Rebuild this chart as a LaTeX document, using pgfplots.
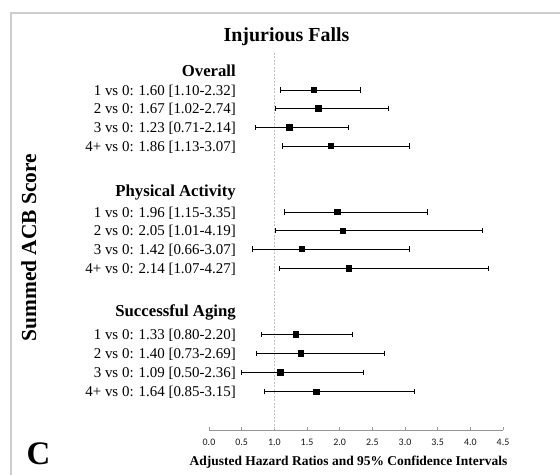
\documentclass[border=0pt]{standalone}
\usepackage{pgfplots}
\pgfplotsset{compat=1.18}
\usepackage{pgfplotstable}
\usepackage{fontspec}
\setmainfont{Liberation Serif}
\newfontfamily\carlito{Carlito}
\definecolor{frame}{RGB}{205,205,205}
\definecolor{refline}{RGB}{195,195,195}
\definecolor{axisgray}{RGB}{150,150,150}

% y = vertical position of each row (picture units, downward negative)
\pgfplotstableread{
y hr lo hi
-90.0 1.60 1.10 2.32
-108.3 1.67 1.02 2.74
-127.3 1.23 0.71 2.14
-146.0 1.86 1.13 3.07
}\overall
\pgfplotstableread{
y hr lo hi
-212.0 1.96 1.15 3.35
-230.7 2.05 1.01 4.19
-249.0 1.42 0.66 3.07
-268.3 2.14 1.07 4.27
}\physact
\pgfplotstableread{
y hr lo hi
-334.3 1.33 0.80 2.20
-353.3 1.40 0.73 2.69
-372.3 1.09 0.50 2.36
-391.7 1.64 0.85 3.15
}\sucaging

\pgfplotsset{forest/.style={
    only marks, mark=square*, mark size=2.7bp, black,
    error bars/.cd, x dir=both, x explicit,
    error mark=|,
    error bar style={line width=0.8bp, black},
    error mark options={line width=0.8bp, mark size=2.6bp, black}}}

\begin{document}
\begin{tikzpicture}[x=1bp,y=1bp]
\draw[frame, line width=1.6bp] (10.8,-20) -- (10.8,461.7) -- (600,461.7);
\begin{axis}[
  at={(209bp,45bp)}, anchor=south west, scale only axis,
  width=294bp, height=377bp,
  xmin=0, xmax=4.5, ymin=-430, ymax=-53, enlargelimits=false,
  axis x line=bottom, axis y line=none,
  x axis line style={-, color=axisgray, line width=0.8bp},
  xtick={0,0.5,1,1.5,2,2.5,3,3.5,4,4.5}, ytick=\empty,
  tick align=inside, major tick length=2.5bp,
  xtick style={color=axisgray, line width=0.8bp},
  xticklabel={\carlito\fontsize{10}{12}\selectfont\pgfmathprintnumber[fixed,fixed zerofill,precision=1,assume math mode=true]{\tick}},
  xticklabel style={anchor=base, yshift=-15.3bp, inner sep=0pt, text=black!90},
  clip=false,
]
\addplot[refline, line width=0.9bp, dash pattern=on 2bp off 1.5bp, sharp plot, no marks] coordinates {(1,-53) (1,-430)};
\addplot[forest] table[x=hr, y=y, x error plus expr=\thisrow{hi}-\thisrow{hr}, x error minus expr=\thisrow{hr}-\thisrow{lo}] {\overall};
\addplot[forest] table[x=hr, y=y, x error plus expr=\thisrow{hi}-\thisrow{hr}, x error minus expr=\thisrow{hr}-\thisrow{lo}] {\physact};
\addplot[forest] table[x=hr, y=y, x error plus expr=\thisrow{hi}-\thisrow{hr}, x error minus expr=\thisrow{hr}-\thisrow{lo}] {\sucaging};

\tikzset{hdr/.style={anchor=base east, inner sep=0, font=\fontsize{16.8}{18}\selectfont\bfseries},
         row/.style={anchor=base east, inner sep=0, font=\fontsize{15}{17}\selectfont}}
\node[hdr] at (axis cs:0.413,-76.7) {Overall};
\node[row] at (axis cs:0.413,-95.1) {1 vs 0: 1.60 [1.10-2.32]};
\node[row] at (axis cs:0.413,-113.4) {2 vs 0: 1.67 [1.02-2.74]};
\node[row] at (axis cs:0.413,-132.4) {3 vs 0: 1.23 [0.71-2.14]};
\node[row] at (axis cs:0.413,-151.1) {4+ vs 0: 1.86 [1.13-3.07]};
\node[hdr] at (axis cs:0.413,-196.7) {Physical Activity};
\node[row] at (axis cs:0.413,-217.1) {1 vs 0: 1.96 [1.15-3.35]};
\node[row] at (axis cs:0.413,-235.8) {2 vs 0: 2.05 [1.01-4.19]};
\node[row] at (axis cs:0.413,-254.1) {3 vs 0: 1.42 [0.66-3.07]};
\node[row] at (axis cs:0.413,-273.4) {4+ vs 0: 2.14 [1.07-4.27]};
\node[hdr] at (axis cs:0.413,-316.7) {Successful Aging};
\node[row] at (axis cs:0.413,-339.4) {1 vs 0: 1.33 [0.80-2.20]};
\node[row] at (axis cs:0.413,-358.4) {2 vs 0: 1.40 [0.73-2.69]};
\node[row] at (axis cs:0.413,-377.4) {3 vs 0: 1.09 [0.50-2.36]};
\node[row] at (axis cs:0.413,-396.8) {4+ vs 0: 1.64 [0.85-3.15]};
\end{axis}
\node[anchor=base, inner sep=0, font=\fontsize{20}{22}\selectfont\bfseries] at (286.5,433.3) {Injurious Falls};
\node[anchor=base, inner sep=0, rotate=90, font=\fontsize{21.5}{23}\selectfont\bfseries] at (36,227.5) {Summed ACB Score};
\node[anchor=base, inner sep=0, font=\fontsize{13.5}{15}\selectfont\bfseries] at (348.5,9.3) {Adjusted Hazard Ratios and 95\% Confidence Intervals};
\node[anchor=base, inner sep=0, font=\fontsize{33}{35}\selectfont\bfseries] at (38.5,10.5) {C};
\pgfresetboundingbox
\path[use as bounding box] (0,0) rectangle (560,475);
\end{tikzpicture}
\end{document}
